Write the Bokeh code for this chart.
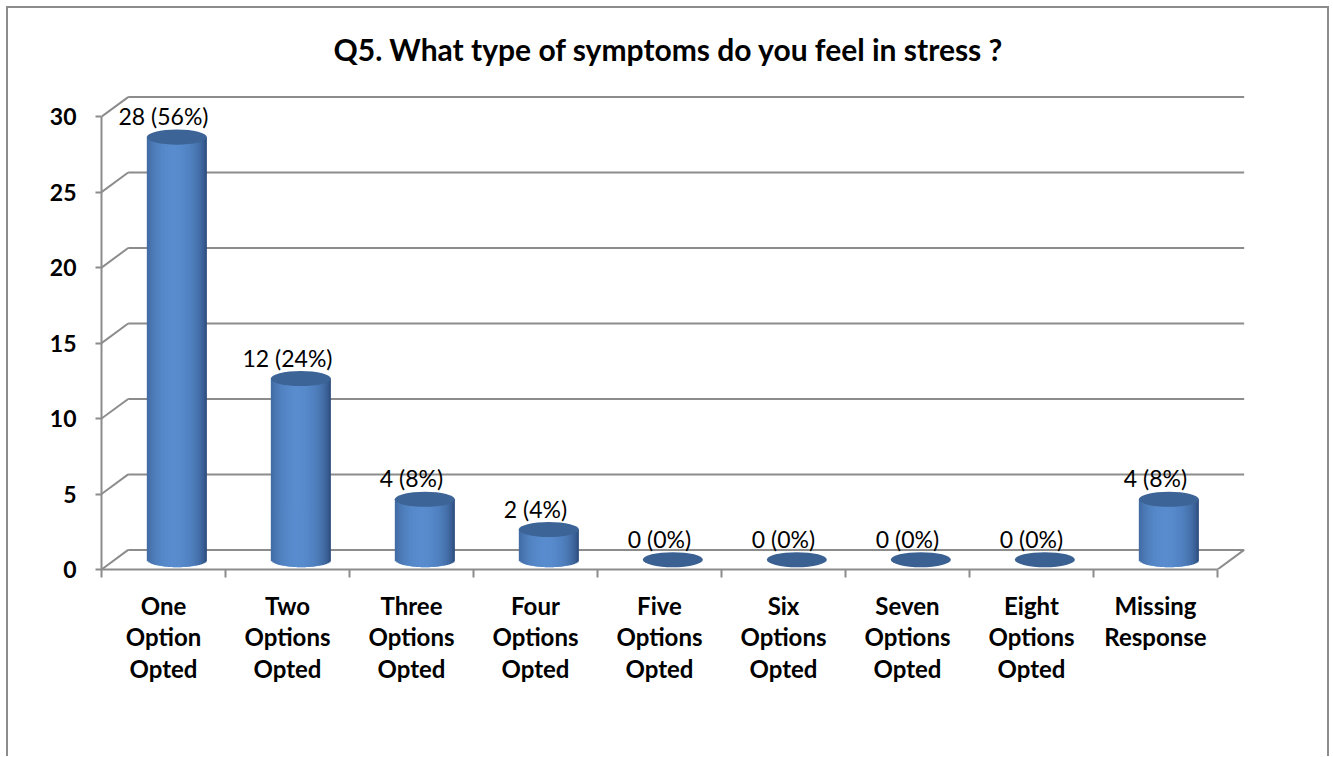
import numpy as np
from bokeh.plotting import figure
from bokeh.models import Range1d, FixedTicker, LinearAxis, ColumnDataSource
from bokeh.embed import file_html
from bokeh.resources import INLINE
from bokeh.core.properties import value

# ---- data ----
categories = ["One\nOption\nOpted", "Two\nOptions\nOpted", "Three\nOptions\nOpted",
              "Four\nOptions\nOpted", "Five\nOptions\nOpted", "Six\nOptions\nOpted",
              "Seven\nOptions\nOpted", "Eight\nOptions\nOpted", "Missing\nResponse"]
counts = [28, 12, 4, 2, 0, 0, 0, 0, 4]
percents = [56, 24, 8, 4, 0, 0, 0, 0, 8]
y_ticks = [0, 5, 10, 15, 20, 25, 30]
title_text = "Q5. What type of symptoms do you feel in stress ?"

# ---- style constants ----
DX, DY = 0.215, 1.3       # 3-D depth offset (category units, value units)
HW, EH = 0.242, 0.5       # cylinder half width, ellipse half height
GRID = "#8c8c8c"
FONT = "Lato"
W, H = 1319, 748

n = len(categories)
idx = list(range(n))

p = figure(width=W, height=H, output_backend="svg", toolbar_location=None,
           x_range=Range1d(-0.5, -0.5 + (W - 93) / 124), y_range=Range1d(0, 32.2),
           min_border_left=93, min_border_right=0, min_border_top=75,
           min_border_bottom=H - 75 - 486, x_axis_location=None, y_axis_location=None)
p.grid.visible = False
p.outline_line_color = None
p.background_fill_color = "white"
p.border_fill_color = "white"
p.styles = {"margin-left": "8px", "margin-top": "8px",
            "box-shadow": "-2px 0 0 #8c8c8c, 2px 0 0 #8c8c8c, 0 -2px 0 #8c8c8c, -2px -2px 0 #8c8c8c, 2px -2px 0 #8c8c8c"}

p.title.text = title_text
p.title.align = "left"
p.title.text_font = FONT
p.title.text_font_size = "30px"
p.title.text_font_style = "bold"
p.title.text_color = "black"
p.title.standoff = 33
p.title.offset = 232

# ---- 3-D walls ----
lo, hi = -0.5, n - 0.5
p.segment(x0=[lo + DX] * len(y_ticks), x1=[hi + DX] * len(y_ticks),
          y0=[t + DY for t in y_ticks], y1=[t + DY for t in y_ticks],
          line_color=GRID, line_width=2)
p.segment(x0=[lo] * len(y_ticks), x1=[lo + DX] * len(y_ticks),
          y0=y_ticks, y1=[t + DY for t in y_ticks], line_color=GRID, line_width=2)
p.segment(x0=[hi], x1=[hi + DX], y0=[y_ticks[0]], y1=[y_ticks[0] + DY],
          line_color=GRID, line_width=2)

# ---- cylinders ----
dark_l = np.array([34, 62, 104])
dark_r = np.array([38, 68, 112])
light = np.array([88, 140, 206])
N = 40
edges = np.linspace(-1, 1, N + 1)
L, R, B, T, C = [], [], [], [], []
for i, v in zip(idx, counts):
    if v <= 0:
        continue
    xc = i + DX / 2
    base = DY / 2
    for j in range(N):
        ul, ur = edges[j], edges[j + 1]
        uc = (ul + ur) / 2
        w = max(0.0, 1 - ((uc + 0.12) / 1.12) ** 2) ** 0.6
        dark = dark_l if uc < -0.12 else dark_r
        col = dark + (light - dark) * w
        L.append(xc + HW * ul)
        R.append(xc + HW * ur + (0.008 if j < N - 1 else 0.0))
        B.append(base - EH * np.sqrt(max(0.0, 1 - uc ** 2)))
        T.append(base + v)
        C.append("#%02x%02x%02x" % tuple(int(round(c)) for c in col))
p.quad(source=ColumnDataSource(dict(left=L, right=R, bottom=B, top=T, color=C)),
       left="left", right="right", bottom="bottom", top="top",
       fill_color="color", line_color=None)

p.ellipse(x=[i + DX / 2 for i in idx], y=[c + DY / 2 for c in counts],
          width=2 * HW, height=2 * EH,
          fill_color=["#3c6496" if c > 0 else "#3b6192" for c in counts],
          line_color=None)

# ---- data labels ----
labels = [f"{c} ({pc}%)" for c, pc in zip(counts, percents)]
p.text(x=idx, y=[c + DY / 2 for c in counts], text=labels, y_offset=-21,
       text_align="center", text_baseline="middle", text_font=value(FONT),
       text_font_size="23px", text_color="black")

# ---- axes ----
yax = LinearAxis(ticker=FixedTicker(ticks=y_ticks), bounds=(0, 30))
yax.axis_line_color = GRID
yax.axis_line_width = 2
yax.major_tick_line_color = GRID
yax.major_tick_line_width = 2
yax.major_tick_out = 6
yax.major_tick_in = 0
yax.minor_tick_line_color = None
yax.major_label_standoff = 19
yax.major_label_text_font = FONT
yax.major_label_text_font_size = "23px"
yax.major_label_text_font_style = "bold"
yax.major_label_text_color = "black"
p.add_layout(yax, "left")

xax = LinearAxis(ticker=FixedTicker(ticks=idx, minor_ticks=[i - 0.5 for i in range(n + 1)]),
                 bounds=(lo, hi))
xax.major_label_overrides = {i: c for i, c in zip(idx, categories)}
xax.axis_line_color = GRID
xax.axis_line_width = 2
xax.major_tick_line_color = None
xax.major_tick_out = 0
xax.major_tick_in = 0
xax.minor_tick_line_color = GRID
xax.minor_tick_line_width = 2
xax.minor_tick_out = 8
xax.minor_tick_in = 0
xax.major_label_standoff = 13
xax.major_label_text_font = FONT
xax.major_label_text_font_size = "24px"
xax.major_label_text_font_style = "bold"
xax.major_label_text_color = "black"
xax.major_label_text_line_height = 1.1
p.add_layout(xax, "below")

open("out.html", "w").write(file_html(p, INLINE))
